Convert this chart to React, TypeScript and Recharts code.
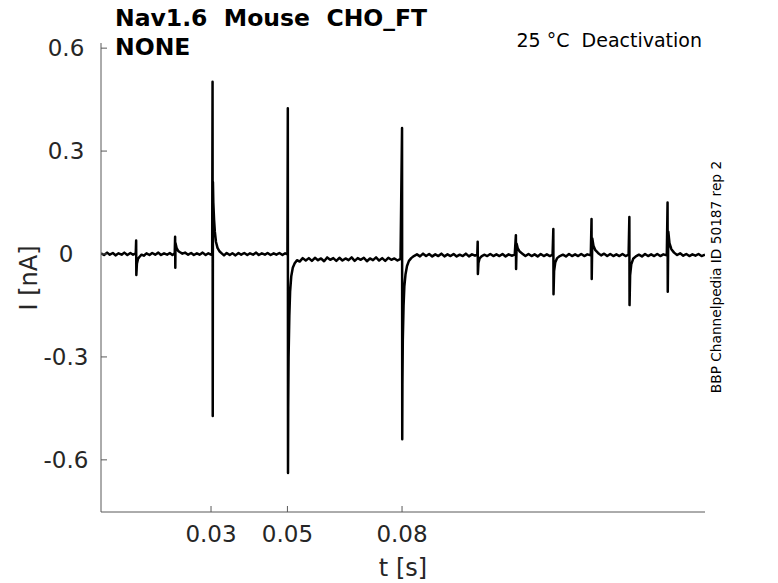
import React from 'react';
import { LineChart, Line, XAxis, YAxis } from 'recharts';

// sweep trace, [t (s), I (nA)], segment by segment
const baseStart: [number, number][] = [
  [0.0012, 0.002], [0.002, -0.003], [0.0028, 0.004], [0.0035, -0.002], [0.0043, 0.003],
  [0.005, -0.004], [0.0058, 0.002], [0.0066, -0.002], [0.0073, 0.004], [0.0081, -0.003],
  [0.0089, 0.003], [0.0096, -0.002], [0.0103, 0.002],
];
const step1: [number, number][] = [
  [0.0104, 0.039], [0.01045, -0.061], [0.0106, -0.028], [0.0109, -0.014], [0.0113, -0.008],
  [0.0118, -0.002], [0.0124, -0.005], [0.0131, 0.002], [0.0139, -0.003], [0.0146, 0.003],
  [0.0154, -0.002], [0.0162, 0.004], [0.0169, -0.003], [0.0177, 0.002], [0.0185, -0.002],
  [0.0192, 0.003], [0.0199, -0.003], [0.0205, 0.002],
];
const step2: [number, number][] = [
  [0.0206, 0.05], [0.02065, -0.04], [0.0207, 0.032], [0.021, 0.017], [0.0214, 0.009],
  [0.0219, 0.005], [0.0225, 0.001], [0.0232, 0.004], [0.024, -0.002], [0.0248, 0.003],
  [0.0255, -0.003], [0.0263, 0.002], [0.027, -0.002], [0.0278, 0.004], [0.0286, -0.003],
  [0.0293, 0.002], [0.03, -0.002], [0.0303, 0.001],
];
const step3: [number, number][] = [
  [0.0304, 0.502], [0.03045, -0.472], [0.0305, 0.21], [0.0306, 0.15], [0.0308, 0.1],
  [0.031, 0.065], [0.0313, 0.035], [0.0317, 0.018], [0.0322, 0.008], [0.0328, 0.002],
  [0.0334, -0.004], [0.0341, 0.003], [0.0349, -0.003], [0.0356, 0.002], [0.0364, -0.004],
  [0.0372, 0.003], [0.0379, -0.002], [0.0387, 0.003], [0.0395, -0.003], [0.0402, 0.002],
  [0.041, -0.002], [0.0418, 0.004], [0.0425, -0.003], [0.0433, 0.002], [0.0441, -0.002],
  [0.0448, 0.003], [0.0456, -0.003], [0.0464, 0.002], [0.0471, -0.002], [0.0479, 0.003],
  [0.0487, -0.003], [0.0494, 0.002], [0.05, -0.001],
];
const step4: [number, number][] = [
  [0.0501, 0.425], [0.05015, -0.638], [0.0502, -0.45], [0.0503, -0.3], [0.0505, -0.18],
  [0.0507, -0.11], [0.051, -0.065], [0.0514, -0.04], [0.0519, -0.027], [0.0525, -0.018],
  [0.0532, -0.022], [0.054, -0.012], [0.0548, -0.019], [0.0556, -0.012], [0.0564, -0.02],
  [0.0572, -0.011], [0.058, -0.018], [0.0588, -0.013], [0.0596, -0.021], [0.0604, -0.01],
  [0.0612, -0.017], [0.062, -0.012], [0.0628, -0.02], [0.0636, -0.011], [0.0644, -0.019],
  [0.0652, -0.013], [0.066, -0.018], [0.0668, -0.01], [0.0676, -0.02], [0.0684, -0.012],
  [0.0692, -0.017], [0.07, -0.011], [0.0708, -0.021], [0.0716, -0.013], [0.0724, -0.018],
  [0.0732, -0.01], [0.074, -0.019], [0.0748, -0.012], [0.0756, -0.02], [0.0764, -0.011],
  [0.0772, -0.017], [0.078, -0.013], [0.0788, -0.019], [0.0796, -0.014],
];
const step5: [number, number][] = [
  [0.08, 0.367], [0.08005, -0.54], [0.0801, -0.38], [0.0802, -0.25], [0.0804, -0.15],
  [0.0806, -0.095], [0.0809, -0.06], [0.0813, -0.035], [0.0818, -0.02], [0.0824, -0.012],
  [0.0831, -0.006], [0.0839, -0.001], [0.0847, -0.007], [0.0855, 0.001], [0.0863, -0.006],
  [0.0871, 0.0], [0.0879, -0.007], [0.0887, -0.001], [0.0895, -0.006], [0.0903, 0.001],
  [0.0911, -0.007], [0.0919, -0.001], [0.0927, -0.006], [0.0935, 0.0], [0.0943, -0.007],
  [0.0951, -0.002], [0.0959, -0.006], [0.0967, 0.001], [0.0975, -0.007], [0.0983, -0.001],
  [0.0991, -0.005], [0.0997, -0.002],
];
const tail: [number, number][] = [
  [0.0998, 0.036], [0.09985, -0.058], [0.1, -0.026], [0.1003, -0.013], [0.1008, -0.007],
  [0.1015, -0.002], [0.1023, -0.006], [0.1031, 0.0], [0.1039, -0.006], [0.1047, -0.001],
  [0.1055, -0.006], [0.1063, 0.0], [0.1071, -0.007], [0.1079, -0.001], [0.1087, -0.005],
  [0.1095, -0.002],
  [0.1098, 0.055], [0.10985, -0.044], [0.11, 0.03], [0.1103, 0.016], [0.1108, 0.007],
  [0.1115, 0.001], [0.1123, -0.006], [0.1131, 0.0], [0.1139, -0.006], [0.1147, -0.001],
  [0.1155, -0.007], [0.1163, 0.0], [0.1171, -0.006], [0.1179, -0.001], [0.1187, -0.006],
  [0.1194, -0.002],
  [0.1196, 0.073], [0.11965, -0.117], [0.1198, -0.05], [0.1201, -0.025], [0.1206, -0.012],
  [0.1213, -0.006], [0.1221, -0.002], [0.1229, -0.007], [0.1237, 0.0], [0.1245, -0.006],
  [0.1253, -0.001], [0.1261, -0.006], [0.1269, 0.0], [0.1277, -0.006], [0.1285, -0.001],
  [0.1294, -0.004],
  [0.1296, 0.102], [0.12965, -0.073], [0.1298, 0.045], [0.1301, 0.024], [0.1306, 0.011],
  [0.1313, 0.003], [0.1321, -0.004], [0.1329, 0.001], [0.1337, -0.006], [0.1345, 0.0],
  [0.1353, -0.006], [0.1361, -0.001], [0.1369, -0.006], [0.1377, 0.0], [0.1385, -0.006],
  [0.1393, -0.002],
  [0.1395, 0.108], [0.13955, -0.149], [0.1397, -0.062], [0.14, -0.03], [0.1405, -0.014],
  [0.1412, -0.007], [0.142, -0.002], [0.1428, -0.007], [0.1436, 0.0], [0.1444, -0.006],
  [0.1452, -0.001], [0.146, -0.006], [0.1468, 0.0], [0.1476, -0.006], [0.1484, -0.001],
  [0.1493, -0.004],
  [0.1495, 0.15], [0.14955, -0.11], [0.1497, 0.065], [0.15, 0.032], [0.1505, 0.014],
  [0.1512, 0.004], [0.152, -0.003], [0.1528, 0.002], [0.1536, -0.005], [0.1544, 0.0],
  [0.1552, -0.006], [0.156, -0.001], [0.1568, -0.005], [0.1576, 0.0], [0.1584, -0.006],
  [0.1593, -0.002],
];

const xTicks = [0.03, 0.05, 0.08];
const yTicks = [-0.6, -0.3, 0, 0.3, 0.6];

const data = [...baseStart, ...step1, ...step2, ...step3, ...step4, ...step5, ...tail].map(
  ([t, i]) => ({ t, i })
);

const FONT = '"DejaVu Sans", Verdana, sans-serif';
const TEXT = '#262626';
const AXIS = '#595959';
const MARGIN = 14;

const XTick = (props: any) => {
  const { x, y, payload } = props;
  const axisY = y - MARGIN;
  return (
    <g>
      <line x1={x} x2={x} y1={axisY} y2={axisY - 6} stroke={AXIS} />
      <text x={x} y={axisY + 30} textAnchor="middle" fill={TEXT} fontSize={23} fontFamily={FONT}>
        {String(payload.value)}
      </text>
    </g>
  );
};

const YTick = (props: any) => {
  const { x, y, payload } = props;
  const axisX = x + MARGIN;
  return (
    <g>
      <line x1={axisX} x2={axisX + 6} y1={y} y2={y} stroke={AXIS} />
      <text x={axisX - 35} y={y + 8} textAnchor="middle" fill={TEXT} fontSize={23} fontFamily={FONT}>
        {String(payload.value)}
      </text>
    </g>
  );
};

export default function App() {
  return (
    <div style={{ position: 'absolute', left: 0, top: 0, width: 778, height: 583, background: '#fff' }}>
      <LineChart
        width={778}
        height={583}
        data={data}
        margin={{ top: 43, right: 73, bottom: 0, left: 0 }}
      >
        <XAxis
          dataKey="t"
          type="number"
          domain={[0.0012, 0.1593]}
          ticks={xTicks}
          allowDataOverflow
          height={71}
          tickSize={0}
          tickMargin={MARGIN}
          axisLine={{ stroke: AXIS }}
          tick={<XTick />}
          interval={0}
        />
        <YAxis
          type="number"
          domain={[-0.752, 0.615]}
          ticks={yTicks}
          allowDataOverflow
          width={101}
          tickSize={0}
          tickMargin={MARGIN}
          axisLine={{ stroke: AXIS }}
          tick={<YTick />}
          interval={0}
        />
        <Line
          dataKey="i"
          type="linear"
          stroke="#000"
          strokeWidth={2.5}
          strokeLinejoin="round"
          dot={false}
          isAnimationActive={false}
        />
      </LineChart>
      <svg
        width={778}
        height={583}
        style={{ position: 'absolute', left: 0, top: 0, pointerEvents: 'none' }}
      >
        <text x={115} y={26} fontSize={23.5} fontWeight="bold" fontFamily={FONT} fill="#000" style={{ whiteSpace: 'pre' }}>
          Nav1.6  Mouse  CHO_FT
        </text>
        <text x={115} y={55} fontSize={23.5} fontWeight="bold" fontFamily={FONT} fill="#000">
          NONE
        </text>
        <text x={702} y={47} textAnchor="end" fontSize={19} fontFamily={FONT} fill="#000" style={{ whiteSpace: 'pre' }}>
          25 °C  Deactivation
        </text>
        <text
          x={721}
          y={277}
          textAnchor="middle"
          fontSize={13.7}
          fontFamily={FONT}
          fill="#000"
          transform="rotate(-90 721 277)"
        >
          BBP Channelpedia ID 50187 rep 2
        </text>
        <text
          x={29}
          y={278}
          textAnchor="middle"
          dominantBaseline="central"
          fontSize={24}
          fontFamily={FONT}
          fill={TEXT}
          transform="rotate(-90 29 278)"
        >
          I [nA]
        </text>
        <text x={403} y={576} textAnchor="middle" fontSize={24} fontFamily={FONT} fill={TEXT}>
          t [s]
        </text>
      </svg>
    </div>
  );
}
